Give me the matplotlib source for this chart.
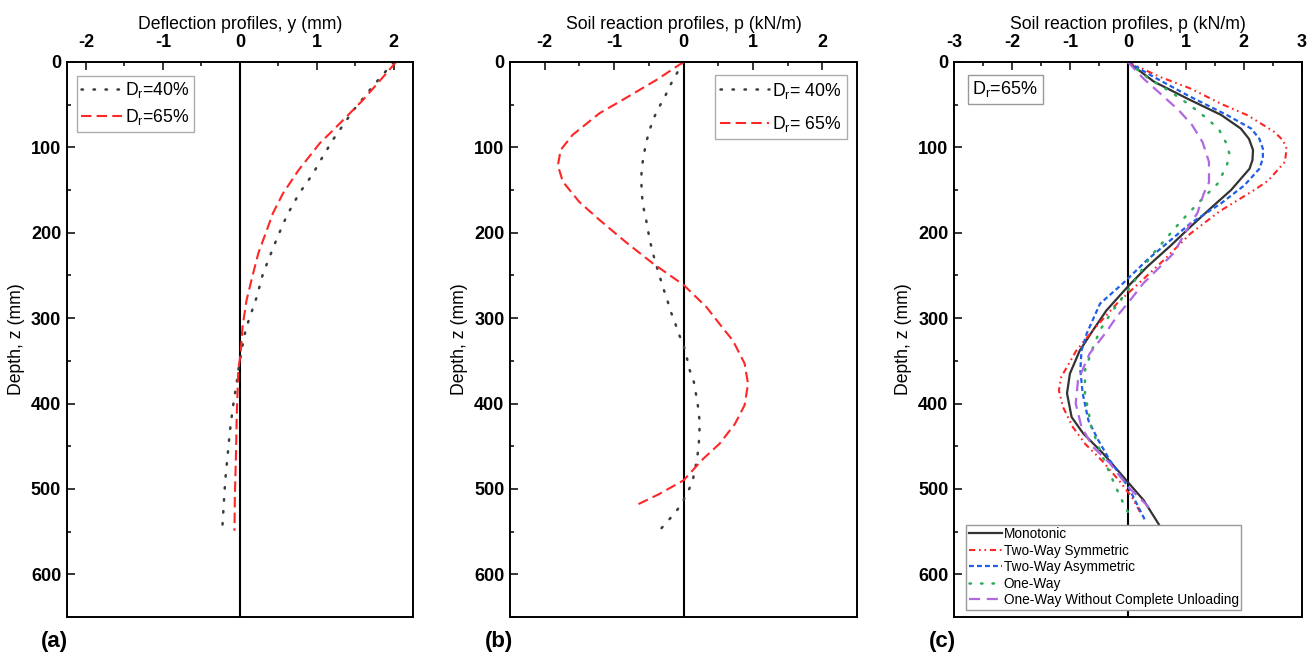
import matplotlib
matplotlib.use("Agg")
import matplotlib.pyplot as plt
from matplotlib.ticker import MultipleLocator

plt.rcParams['font.family'] = ['Liberation Sans', 'DejaVu Sans']
plt.rcParams['mathtext.fontset'] = 'custom'
plt.rcParams['mathtext.rm'] = 'Liberation Sans'
plt.rcParams['mathtext.it'] = 'Liberation Sans:italic'
plt.rcParams['mathtext.bf'] = 'Liberation Sans:bold'
plt.rcParams['axes.unicode_minus'] = False

# ---------------- Data ----------------
# (a) Deflection profiles
a40_z = [0, 25, 56, 91, 118, 131, 154, 180, 207, 248, 275, 304, 318, 332, 361, 375, 404, 433, 462, 490, 519, 549]
a40_y = [2.00, 1.76, 1.48, 1.21, 1.03, 0.95, 0.77, 0.61, 0.48, 0.30, 0.22, 0.11, 0.065, 0.035, -0.02, -0.04,
         -0.09, -0.13, -0.16, -0.19, -0.21, -0.23]
a65_z = [0, 27, 44.5, 80, 95, 127, 154, 177, 197, 224, 252, 279, 310, 341, 361, 412, 459, 509, 549]
a65_y = [2.03, 1.77, 1.60, 1.21, 1.04, 0.76, 0.56, 0.43, 0.35, 0.24, 0.16, 0.087, 0.035, 0.01, -0.02, -0.04,
         -0.05, -0.065, -0.07]

# (b) Soil reaction profiles
b40_z = [0, 11, 27, 41, 54, 66, 80, 95, 108, 123, 138, 152, 166, 180, 193, 207, 221, 236, 249, 263, 277, 291,
         306, 320, 333, 347, 361, 375, 389, 404, 419, 433, 448, 462, 476, 491, 504, 516, 527, 537, 549]
b40_p = [0, -0.08, -0.19, -0.27, -0.36, -0.43, -0.49, -0.54, -0.57, -0.60, -0.61, -0.60, -0.59, -0.55, -0.52,
         -0.49, -0.45, -0.40, -0.35, -0.30, -0.24, -0.19, -0.12, -0.06, 0.005, 0.05, 0.09, 0.15, 0.18, 0.21,
         0.23, 0.23, 0.22, 0.20, 0.17, 0.13, 0.06, -0.02, -0.11, -0.22, -0.35]
b65_z = [0, 21, 44.5, 60, 85.5, 103, 121, 140, 164, 185, 211, 236, 261, 287, 312, 326, 353, 377, 402, 424,
         447, 465, 490, 506, 519]
b65_p = [0, -0.39, -0.88, -1.21, -1.60, -1.77, -1.81, -1.74, -1.50, -1.21, -0.83, -0.44, 0.0, 0.33, 0.57,
         0.71, 0.88, 0.93, 0.88, 0.74, 0.52, 0.28, 0.0, -0.35, -0.68]

# (c) Soil reaction profiles, Dr=65%, loading types
mono_z = [0, 23, 43, 62, 78, 90, 103, 115, 125, 150, 170, 193, 215, 240, 263, 291, 314, 338, 365, 388, 416,
          435, 459, 492, 513, 541, 550]
mono_p = [0, 0.45, 1.03, 1.61, 1.95, 2.09, 2.16, 2.15, 2.10, 1.78, 1.45, 1.08, 0.74, 0.33, 0.0, -0.37, -0.60,
          -0.83, -1.0, -1.05, -0.97, -0.77, -0.42, 0.0, 0.27, 0.53, 0.60]
tws_z = [0, 17.6, 31, 49, 62.5, 82, 92, 101.5, 117, 139, 150, 175, 201, 232, 256, 283, 314, 338, 369, 384.5,
         404, 427.5, 447, 466.6, 492, 509.6, 527]
tws_p = [0, 0.56, 1.08, 1.61, 2.07, 2.53, 2.68, 2.74, 2.71, 2.42, 2.18, 1.58, 1.08, 0.62, 0.24, -0.19, -0.60,
         -0.89, -1.15, -1.19, -1.12, -0.95, -0.74, -0.45, -0.13, 0.07, 0.21]
twa_z = [0, 17.6, 39, 62.5, 78, 90, 101.5, 113, 125, 144.5, 165, 189, 232, 259, 283, 318, 338, 361, 388, 420,
         443, 466.6, 498, 525, 537]
twa_p = [0, 0.45, 1.03, 1.72, 2.13, 2.27, 2.33, 2.33, 2.27, 2.01, 1.62, 1.08, 0.33, -0.08, -0.48, -0.71,
         -0.80, -0.82, -0.78, -0.68, -0.51, -0.31, 0.01, 0.21, 0.30]
ow_z = [0, 19.5, 35, 51, 68, 80, 94, 107, 121, 142.5, 162, 187, 228, 258, 293, 314, 334, 361, 388, 427.5,
        455, 482, 509.6, 523, 537]
ow_p = [0, 0.36, 0.74, 1.08, 1.40, 1.58, 1.69, 1.75, 1.71, 1.55, 1.26, 0.91, 0.39, 0.10, -0.28, -0.48,
        -0.60, -0.74, -0.74, -0.63, -0.48, -0.31, -0.13, -0.03, 0.08]
owu_z = [0, 19.5, 37, 56.6, 74, 94, 117, 141, 154, 177, 189, 224, 259, 279, 298, 316, 341.5, 373, 400,
         427.5, 451, 470, 498, 519, 525]
owu_p = [0, 0.27, 0.56, 0.88, 1.11, 1.29, 1.40, 1.40, 1.31, 1.20, 1.08, 0.79, 0.27, 0.04, -0.19, -0.37,
         -0.66, -0.86, -0.90, -0.80, -0.60, -0.31, 0.01, 0.33, 0.39]

# tick values
a_xticks = [-2, -1, 0, 1, 2]
b_xticks = [-2, -1, 0, 1, 2]
c_xticks = [-3, -2, -1, 0, 1, 2, 3]
z_ticks = [0, 100, 200, 300, 400, 500, 600]

# ---------------- Figure ----------------
W, H = 1312, 655
fig = plt.figure(figsize=(W / 100, H / 100), dpi=100)

def px_axes(x0, x1, y0, y1):
    return fig.add_axes([x0 / W, 1 - y1 / H, (x1 - x0) / W, (y1 - y0) / H])

axa = px_axes(66.7, 413, 62, 617)
axb = px_axes(510, 857, 62, 617)
axc = px_axes(954, 1301.7, 62, 617)

RED = '#ff2626'
DOT = '#3c3c3c'

def style(ax, xlim, xticks, xlabel):
    ax.set_xlim(*xlim)
    ax.set_ylim(650, 0)
    ax.xaxis.tick_top()
    ax.set_xticks(xticks)
    ax.set_yticks(z_ticks)
    ax.xaxis.set_minor_locator(MultipleLocator(0.5))
    ax.yaxis.set_minor_locator(MultipleLocator(50))
    ax.tick_params(which='both', direction='in', top=True, bottom=False, left=True, right=False,
                   labeltop=True, labelbottom=False, width=1.1)
    ax.tick_params(which='major', length=5.5)
    ax.tick_params(which='minor', length=3)
    ax.tick_params(axis='x', which='major', pad=8)
    ax.tick_params(axis='y', which='major', pad=4)
    for lab in ax.get_xticklabels() + ax.get_yticklabels():
        lab.set_fontweight('bold')
        lab.set_fontsize(13)
    for s in ax.spines.values():
        s.set_linewidth(1.4)
    ax.set_xlabel(xlabel, fontsize=12.7)
    ax.xaxis.set_label_position('top')
    ax.xaxis.set_label_coords(0.5, 1.0 + 33 / 555)
    ax.set_ylabel('Depth, z (mm)', fontsize=12.7)
    ax.yaxis.set_label_coords(-0.12, 0.5)
    ax.axvline(0, color='black', lw=1.5, zorder=1)

# (a)
style(axa, (-2.25, 2.25), a_xticks, 'Deflection profiles, y (mm)')
axa.plot(a40_y, a40_z, color=DOT, lw=1.8, linestyle=(0, (0.6, 4.2)), dash_capstyle='round',
         label='D$_\\mathrm{r}$=40%')
axa.plot(a65_y, a65_z, color=RED, lw=1.5, linestyle=(0, (5, 2.5)), label='D$_\\mathrm{r}$=65%')
leg = axa.legend(loc='upper left', bbox_to_anchor=(0.03, 0.975), fontsize=12.7, frameon=True,
                 fancybox=False, edgecolor='#999999', handlelength=2.3, handletextpad=0.15,
                 borderpad=0.25, labelspacing=0.4, borderaxespad=0)
leg.get_frame().set_linewidth(1.0)

# (b)
style(axb, (-2.5, 2.5), b_xticks, 'Soil reaction profiles, p (kN/m)')
axb.plot(b40_p, b40_z, color=DOT, lw=1.8, linestyle=(0, (0.6, 4.2)), dash_capstyle='round',
         label='D$_\\mathrm{r}$= 40%')
axb.plot(b65_p, b65_z, color=RED, lw=1.5, linestyle=(0, (5, 2.5)), label='D$_\\mathrm{r}$= 65%')
leg = axb.legend(loc='upper right', bbox_to_anchor=(0.97, 0.976), fontsize=12.7, frameon=True,
                 fancybox=False, edgecolor='#999999', handlelength=2.8, handletextpad=0.15,
                 borderpad=0.3, labelspacing=0.75, borderaxespad=0)
leg.get_frame().set_linewidth(1.0)

# (c)
style(axc, (-3.0, 3.0), c_xticks, 'Soil reaction profiles, p (kN/m)')
axc.plot(mono_p, mono_z, color='#333333', lw=1.6, linestyle='-', label='Monotonic')
axc.plot(tws_p, tws_z, color=RED, lw=1.5, linestyle=(0, (3, 1.8, 0.8, 1.8, 0.8, 1.8)), label='Two-Way Symmetric')
axc.plot(twa_p, twa_z, color='#1f5fe8', lw=1.6, linestyle=(0, (2.2, 1.4)), label='Two-Way Asymmetric')
axc.plot(ow_p, ow_z, color='#2eaa5a', lw=1.8, linestyle=(0, (0.6, 4.0)), dash_capstyle='round', label='One-Way')
axc.plot(owu_p, owu_z, color='#b068e0', lw=1.6, linestyle=(0, (5, 3)), label='One-Way Without Complete Unloading')
leg = axc.legend(loc='lower left', bbox_to_anchor=(0.035, 0.013), fontsize=9.8, frameon=True,
                 fancybox=False, edgecolor='#999999', framealpha=1, handlelength=2.4, handletextpad=0.15,
                 borderpad=0.2, labelspacing=0.18, borderaxespad=0)
leg.get_frame().set_linewidth(1.0)
leg.set_zorder(5)
axc.text(0.147, 0.951, 'D$_\\mathrm{r}$=65%', transform=axc.transAxes, fontsize=13, ha='center', va='center',
         bbox=dict(boxstyle='square,pad=0.25', facecolor='white', edgecolor='#999999', linewidth=1.0))

# panel letters
for xc, t in [(54, '(a)'), (499, '(b)'), (942, '(c)')]:
    fig.text(xc / W, 1 - 641 / H, t, fontsize=16, fontweight='bold', ha='center', va='center')

fig.savefig('out.png', dpi=100)
